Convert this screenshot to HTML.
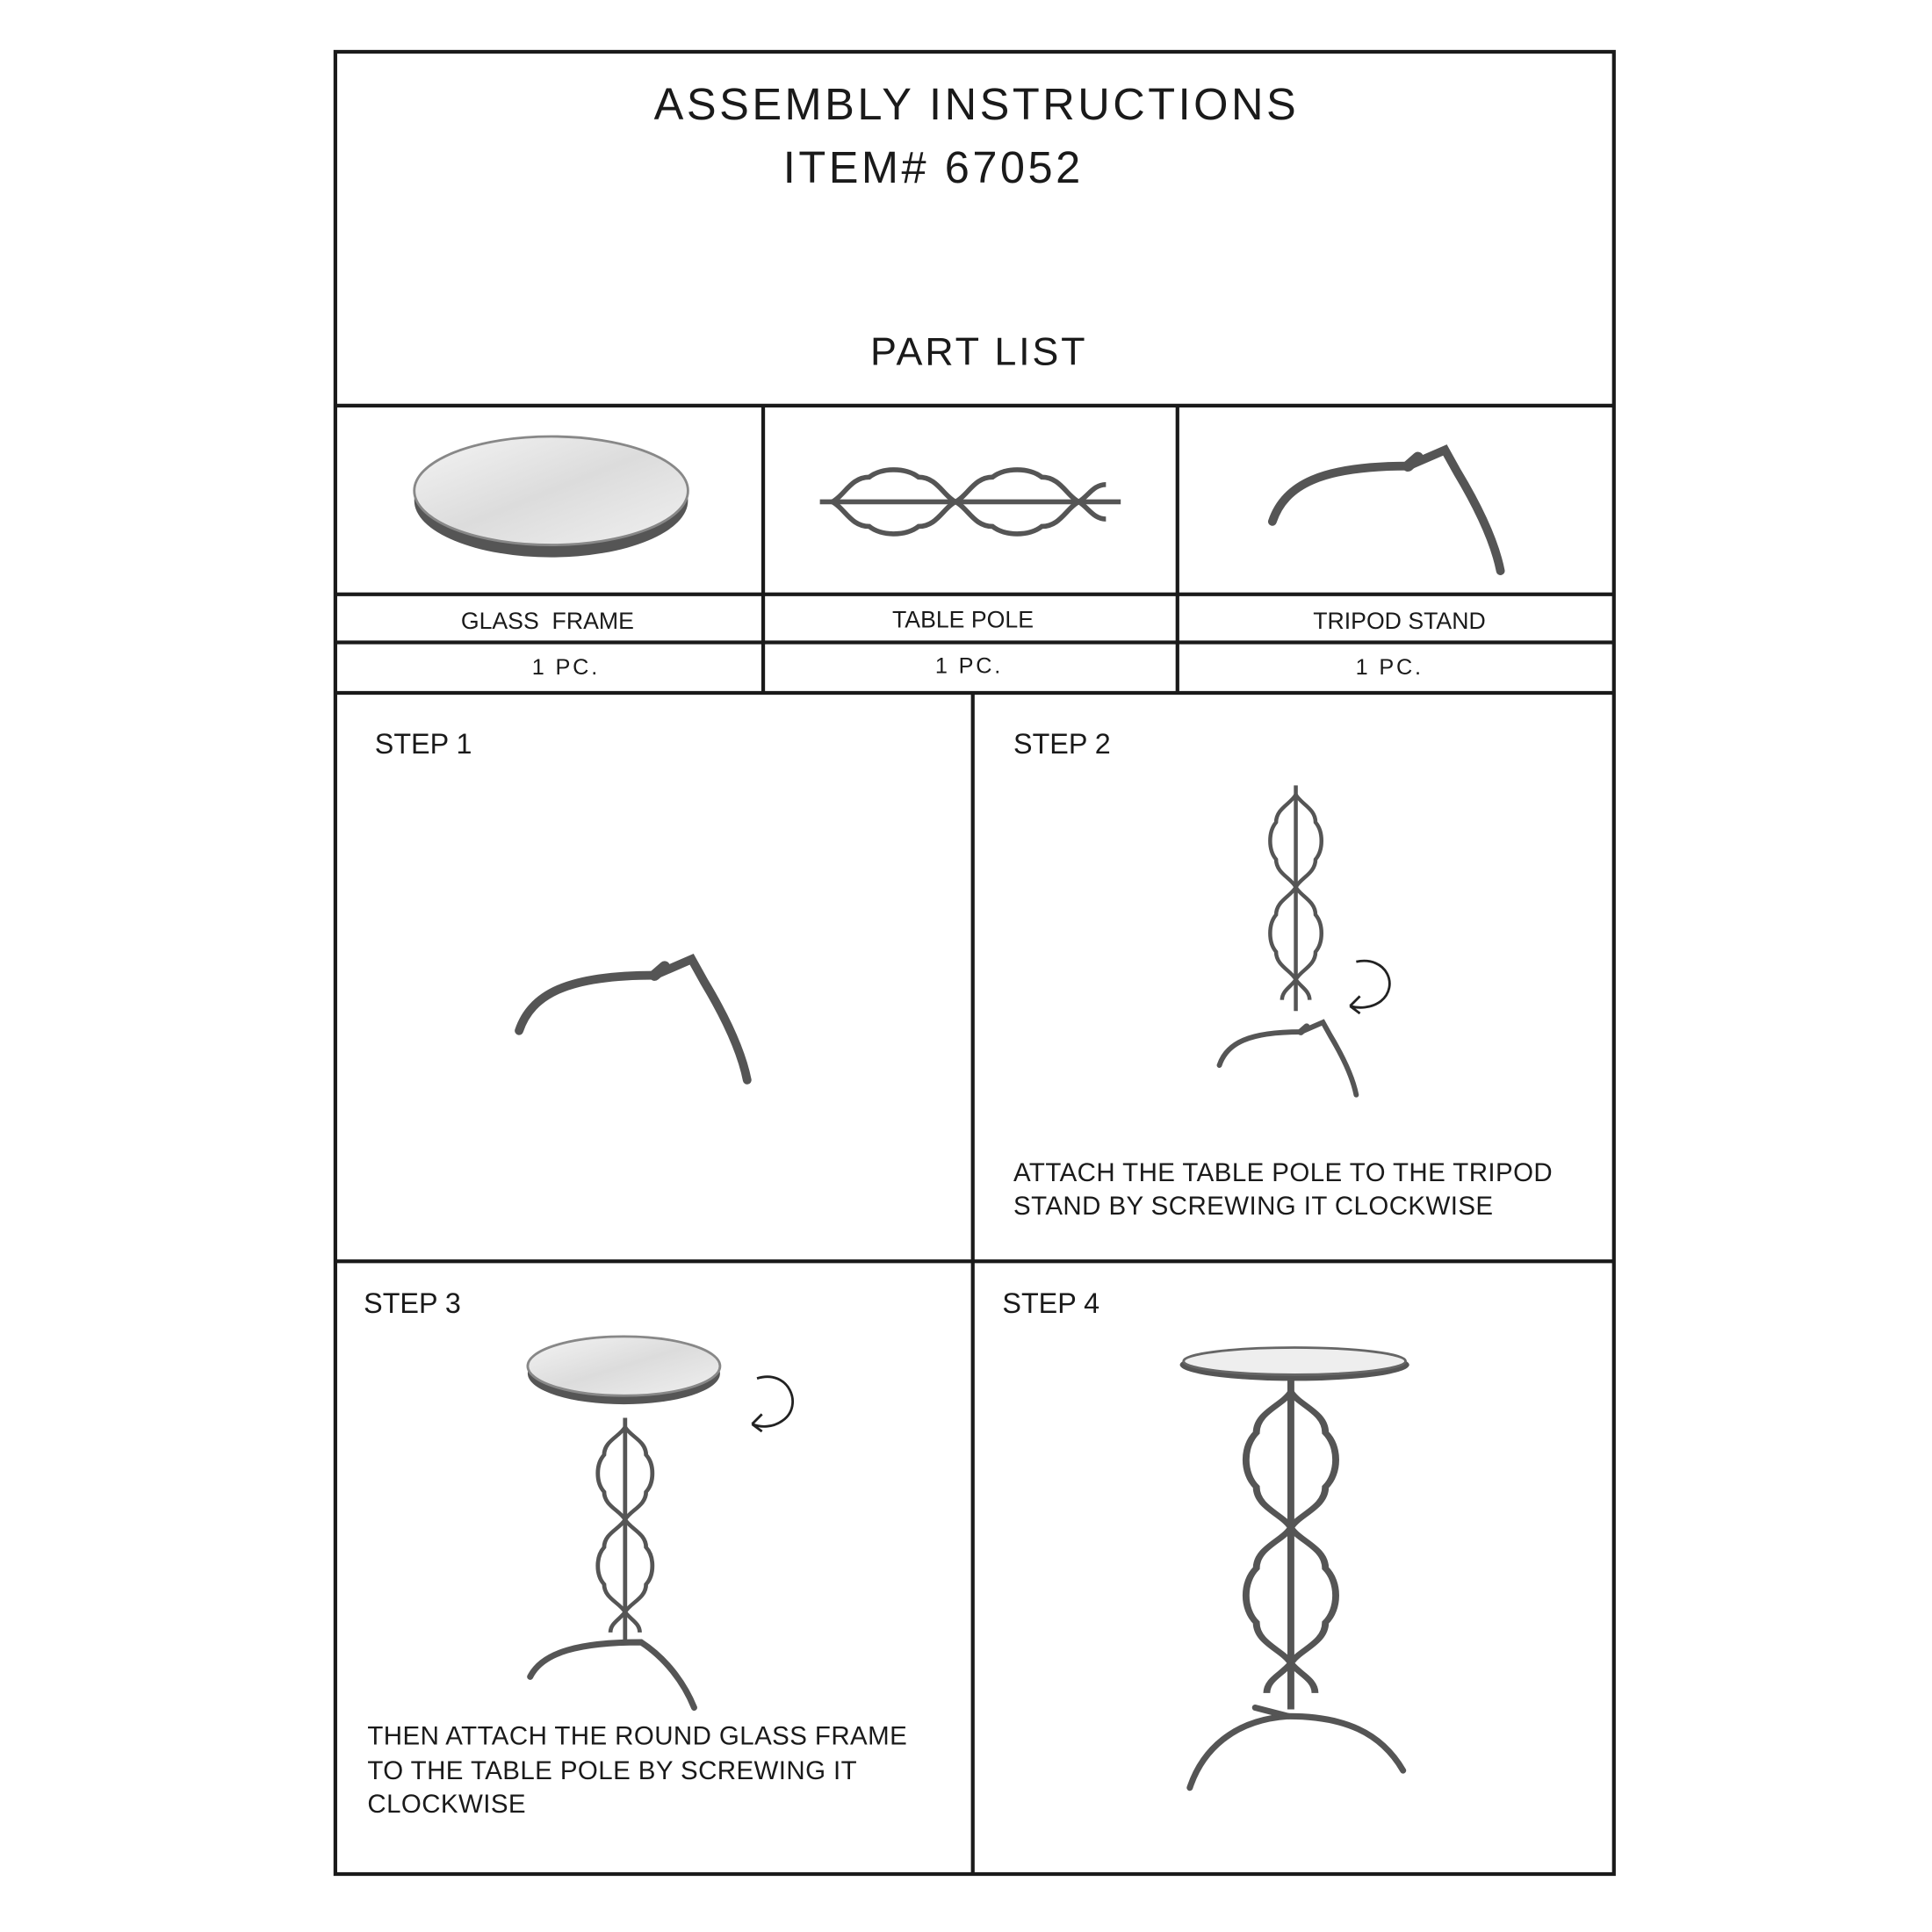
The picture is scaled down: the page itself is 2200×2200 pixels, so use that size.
<!DOCTYPE html>
<html><head><meta charset="utf-8"><style>
html,body{margin:0;padding:0;background:#fff}
svg{display:block}
text{font-family:"Liberation Sans",Arial,sans-serif;fill:#1a1a1a}
</style></head><body>
<svg width="2200" height="2200" viewBox="0 0 1567 1567" xmlns="http://www.w3.org/2000/svg">
<defs>
<linearGradient id="g" x1="0" y1="0" x2="1" y2="1">
<stop offset="0" stop-color="#f4f4f4"/><stop offset="0.5" stop-color="#dcdcdc"/><stop offset="1" stop-color="#f0f0f0"/></linearGradient>
<g id="tripod" fill="none" stroke="#555" stroke-linecap="round">
<path d="M0 60 C10 30 40 15 110 15" stroke-width="7"/>
<path d="M110 15 L140 2 L150 20 C165 45 180 75 185 100" stroke-width="7"/>
<path d="M110 15 L118 8" stroke-width="9"/>
</g>
<g id="pole" fill="none" stroke="#555" stroke-width="4">
<path d="M0 0 H244"/>
<path d="M10 0 C20 -5 25 -20 40 -20 C50 -28 70 -28 80 -20 C95 -20 100 -5 110 0 C100 5 95 20 80 20 C70 28 50 28 40 20 C25 20 20 5 10 0Z"/>
<path d="M110 0 C120 -5 125 -20 140 -20 C150 -28 170 -28 180 -20 C195 -20 200 -5 210 0 C200 5 195 20 180 20 C170 28 150 28 140 20 C125 20 120 5 110 0Z"/>
<path d="M210 0 C218 -5 222 -14 232 -14 M210 0 C218 5 222 14 232 14"/>
</g>
</defs>
<g stroke="#1a1a1a" stroke-width="3" fill="none">
<rect x="272" y="42" width="1037" height="1478"/>
<line x1="272" y1="329" x2="1309" y2="329"/>
<line x1="272" y1="482" x2="1309" y2="482"/>
<line x1="272" y1="521" x2="1309" y2="521"/>
<line x1="272" y1="562" x2="1309" y2="562"/>
<line x1="619" y1="329" x2="619" y2="562"/>
<line x1="955" y1="329" x2="955" y2="562"/>
<line x1="789" y1="562" x2="789" y2="1520"/>
<line x1="272" y1="1023" x2="1309" y2="1023"/>
</g>
<text x="792" y="97" font-size="36" text-anchor="middle" letter-spacing="2.5">ASSEMBLY INSTRUCTIONS</text>
<text x="757" y="148" font-size="36" text-anchor="middle" letter-spacing="2.5">ITEM# 67052</text>
<text x="794" y="296" font-size="32" text-anchor="middle" letter-spacing="2">PART LIST</text>
<text x="444" y="510" font-size="19" text-anchor="middle">GLASS&#160; FRAME</text>
<text x="781" y="509" font-size="19" text-anchor="middle">TABLE POLE</text>
<text x="1135" y="510" font-size="19" text-anchor="middle">TRIPOD STAND</text>
<text x="459" y="547" font-size="18" text-anchor="middle" letter-spacing="2">1 PC.</text>
<text x="786" y="546" font-size="18" text-anchor="middle" letter-spacing="2">1 PC.</text>
<text x="1127" y="547" font-size="18" text-anchor="middle" letter-spacing="2">1 PC.</text>
<text x="304" y="611" font-size="23">STEP 1</text>
<text x="822" y="611" font-size="23">STEP 2</text>
<text x="295" y="1065" font-size="23">STEP 3</text>
<text x="813" y="1065" font-size="23">STEP 4</text>
<text font-size="21" letter-spacing="0.3"><tspan x="822" y="958">ATTACH THE TABLE POLE TO THE TRIPOD</tspan><tspan x="822" y="985">STAND BY SCREWING IT CLOCKWISE</tspan></text>
<text font-size="21" letter-spacing="0.3"><tspan x="298" y="1415">THEN ATTACH THE ROUND GLASS FRAME</tspan><tspan x="298" y="1443">TO THE TABLE POLE BY SCREWING IT</tspan><tspan x="298" y="1470">CLOCKWISE</tspan></text>
<ellipse cx="447" cy="406" rx="111" ry="46" fill="#555"/>
<ellipse cx="447" cy="398" rx="111" ry="44" fill="url(#g)" stroke="#888" stroke-width="2"/>
<use href="#pole" x="665" y="407"/>
<use href="#tripod" x="1032" y="363"/>
<use href="#tripod" x="421" y="776"/>
<use href="#pole" transform="translate(1051,637) rotate(90) scale(0.75,0.8)"/>
<use href="#tripod" transform="translate(989,828) scale(0.6)"/>
<path d="M1100 780 C1125 775 1135 800 1120 812 C1112 818 1102 818 1095 816 M1095 816 l8 -8 M1095 816 l8 6" fill="none" stroke="#222" stroke-width="2"/>
<ellipse cx="506" cy="1114" rx="78" ry="25" fill="#555"/>
<ellipse cx="506" cy="1108" rx="78" ry="24" fill="url(#g)" stroke="#888" stroke-width="2"/>
<path d="M614 1118 C640 1110 652 1140 635 1152 C627 1158 617 1158 610 1155 M610 1155 l8 -8 M610 1155 l8 6" fill="none" stroke="#222" stroke-width="2"/>
<use href="#pole" transform="translate(507,1150) rotate(90) scale(0.75,0.85)"/>
<g fill="none" stroke="#555" stroke-width="5" stroke-linecap="round">
<path d="M430 1360 C440 1340 470 1332 520 1332 C540 1345 555 1365 563 1385"/>
</g>
<ellipse cx="1050" cy="1107" rx="93" ry="13" fill="#555"/>
<ellipse cx="1050" cy="1104" rx="90" ry="11" fill="#eee" stroke="#666" stroke-width="2"/>
<use href="#pole" transform="translate(1047,1118) rotate(90) scale(1.1,1.4)"/>
<g fill="none" stroke="#555" stroke-width="5" stroke-linecap="round">
<path d="M965 1450 C975 1420 1000 1395 1045 1392 C1090 1392 1120 1405 1138 1436"/>
<path d="M1045 1392 L1018 1385"/>
</g>
</svg>
</body></html>
